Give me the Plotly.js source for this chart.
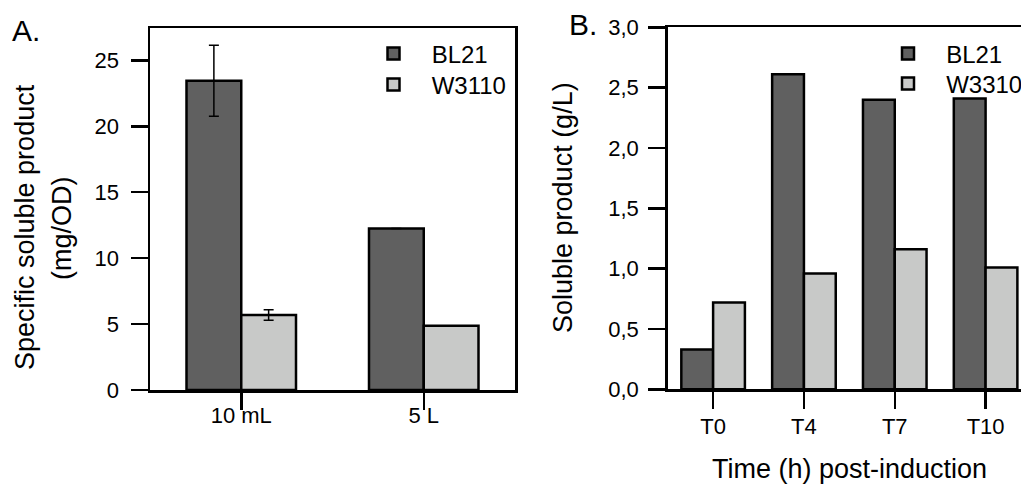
<!DOCTYPE html>
<html>
<head>
<meta charset="utf-8">
<script src="https://cdn.plot.ly/plotly-3.0.1.min.js"></script>
<style>
html, body { margin: 0; padding: 0; overflow: hidden; background: #fff; width: 1021px; height: 484px; }
#chart { width: 1031px; height: 484px; }
</style>
</head>
<body>
<div id="chart"></div>
<script>
// Panel A data
const catsA = ['10 mL', '5 L'];
const bl21A = [23.45, 12.25];
const w3110A = [5.68, 4.87];
const errBl21A = [2.7, null];
const errW3110A = [0.4, null];

// Panel B data
const catsB = ['T0', 'T4', 'T7', 'T10'];
const bl21B = [0.33, 2.61, 2.40, 2.41];
const w3310B = [0.72, 0.96, 1.16, 1.01];

const W = 1031, H = 484;
const FONT = "'Liberation Sans', Arial, sans-serif";
const DARK = '#606060', LIGHT = '#c8c9c8';
const px = v => v / W;
const py = v => 1 - v / H;
const NB = '\u00A0\u00A0\u2009';
const TICKFONT = { family: FONT, size: 22, color: '#000' };

const idxA = catsA.map((c, i) => i);
const idxB = catsB.map((c, i) => i);
const wA = 0.3, wB = 0.35;

const traces = [
  { type: 'bar', x: idxA, y: bl21A, name: NB + 'BL21', xaxis: 'x', yaxis: 'y',
    offset: -wA, width: wA, legend: 'legend',
    marker: { color: DARK, line: { color: '#000', width: 2.5 } },
    error_y: { type: 'data', array: errBl21A, visible: true, color: '#000', thickness: 1.5, width: 5 } },
  { type: 'bar', x: idxA, y: w3110A, name: NB + 'W3110', xaxis: 'x3', yaxis: 'y',
    offset: 0, width: wA, legend: 'legend2',
    marker: { color: LIGHT, line: { color: '#000', width: 2.5 } },
    error_y: { type: 'data', array: errW3110A, visible: true, color: '#000', thickness: 1.5, width: 5 } },
  { type: 'bar', x: idxB, y: bl21B, name: NB + 'BL21', xaxis: 'x2', yaxis: 'y2',
    offset: -wB, width: wB, legend: 'legend3',
    marker: { color: DARK, line: { color: '#000', width: 2.5 } } },
  { type: 'bar', x: idxB, y: w3310B, name: NB + 'W3310', xaxis: 'x4', yaxis: 'y2',
    offset: 0, width: wB, legend: 'legend4',
    marker: { color: LIGHT, line: { color: '#000', width: 2.5 } } }
];

const axisCommon = {
  showline: true, linecolor: '#000', linewidth: 2.5, mirror: true,
  ticks: 'outside', ticklen: 17, tickwidth: 2.5, tickcolor: '#000',
  showgrid: false, zeroline: false, fixedrange: true,
  tickfont: TICKFONT
};

// tick-mark axis (no labels) for a category panel
function tickAxis(cats, domain, anchor) {
  return Object.assign({}, axisCommon, {
    domain: domain, anchor: anchor, type: 'linear',
    range: [-0.5, cats.length - 0.5], tickmode: 'array',
    tickvals: cats.map((c, i) => i), showticklabels: false
  });
}
// label-only overlay axis for the category labels
function labelAxis(over, anchor, cats, standoff) {
  return {
    overlaying: over, anchor: anchor, side: 'bottom', type: 'linear',
    range: [-0.5, cats.length - 0.5], tickmode: 'array',
    tickvals: cats.map((c, i) => i), ticktext: cats,
    ticks: '', ticklen: 0, showline: false, showgrid: false, zeroline: false,
    fixedrange: true, tickfont: TICKFONT, ticklabelstandoff: standoff
  };
}

function leg(x, yTop) {
  return {
    x: px(x), y: py(yTop), xanchor: 'left', yanchor: 'top',
    bgcolor: 'rgba(0,0,0,0)', borderwidth: 0,
    font: { family: FONT, size: 24, color: '#000' }
  };
}

const layout = {
  width: W, height: H,
  margin: { l: 0, r: 0, t: 0, b: 0 },
  paper_bgcolor: '#fff', plot_bgcolor: '#fff',
  barmode: 'overlay',
  separators: ',.',
  font: { family: FONT, color: '#000', size: 22 },
  xaxis: tickAxis(catsA, [px(150), px(515)], 'y'),
  yaxis: Object.assign({}, axisCommon, {
    domain: [py(390), py(28)], anchor: 'x', range: [0, 27.45], tickmode: 'array',
    tickvals: [0, 5, 10, 15, 20, 25], ticklabelstandoff: 7
  }),
  xaxis2: tickAxis(catsB, [px(667.7), 1], 'y2'),
  yaxis2: Object.assign({}, axisCommon, {
    domain: [py(389.3), py(27.3)], anchor: 'x2', range: [0, 3], tickmode: 'array',
    tickvals: [0, 0.5, 1, 1.5, 2, 2.5, 3], tickformat: '.1f', ticklabelstandoff: 5
  }),
  xaxis3: labelAxis('x', 'y', catsA, 10),
  xaxis4: labelAxis('x2', 'y2', catsB, 22),
  legend: leg(373.5, 31.5),
  legend2: leg(373.5, 62.5),
  legend3: leg(888, 31.5),
  legend4: leg(888, 61.5),
  showlegend: true,
  annotations: [
    { text: 'A.', xref: 'paper', yref: 'paper', x: px(26), y: py(30), xanchor: 'center', yanchor: 'middle',
      showarrow: false, font: { family: FONT, size: 30, color: '#000' } },
    { text: 'B.', xref: 'paper', yref: 'paper', x: px(583), y: py(25), xanchor: 'center', yanchor: 'middle',
      showarrow: false, font: { family: FONT, size: 30, color: '#000' } },
    { text: 'Specific soluble product', xref: 'paper', yref: 'paper', x: px(25), y: py(227),
      xanchor: 'center', yanchor: 'middle', textangle: -90, showarrow: false,
      font: { family: FONT, size: 27, color: '#000' } },
    { text: '(mg/OD)', xref: 'paper', yref: 'paper', x: px(62), y: py(228),
      xanchor: 'center', yanchor: 'middle', textangle: -90, showarrow: false,
      font: { family: FONT, size: 27, color: '#000' } },
    { text: 'Soluble product (g/L)', xref: 'paper', yref: 'paper', x: px(563), y: py(208),
      xanchor: 'center', yanchor: 'middle', textangle: -90, showarrow: false,
      font: { family: FONT, size: 27, color: '#000' } },
    { text: 'Time (h) post-induction', xref: 'paper', yref: 'paper', x: px(849), y: py(469),
      xanchor: 'center', yanchor: 'middle', showarrow: false,
      font: { family: FONT, size: 27, color: '#000' } }
  ]
};

Plotly.newPlot('chart', traces, layout, { staticPlot: true, displayModeBar: false });
</script>
</body>
</html>
